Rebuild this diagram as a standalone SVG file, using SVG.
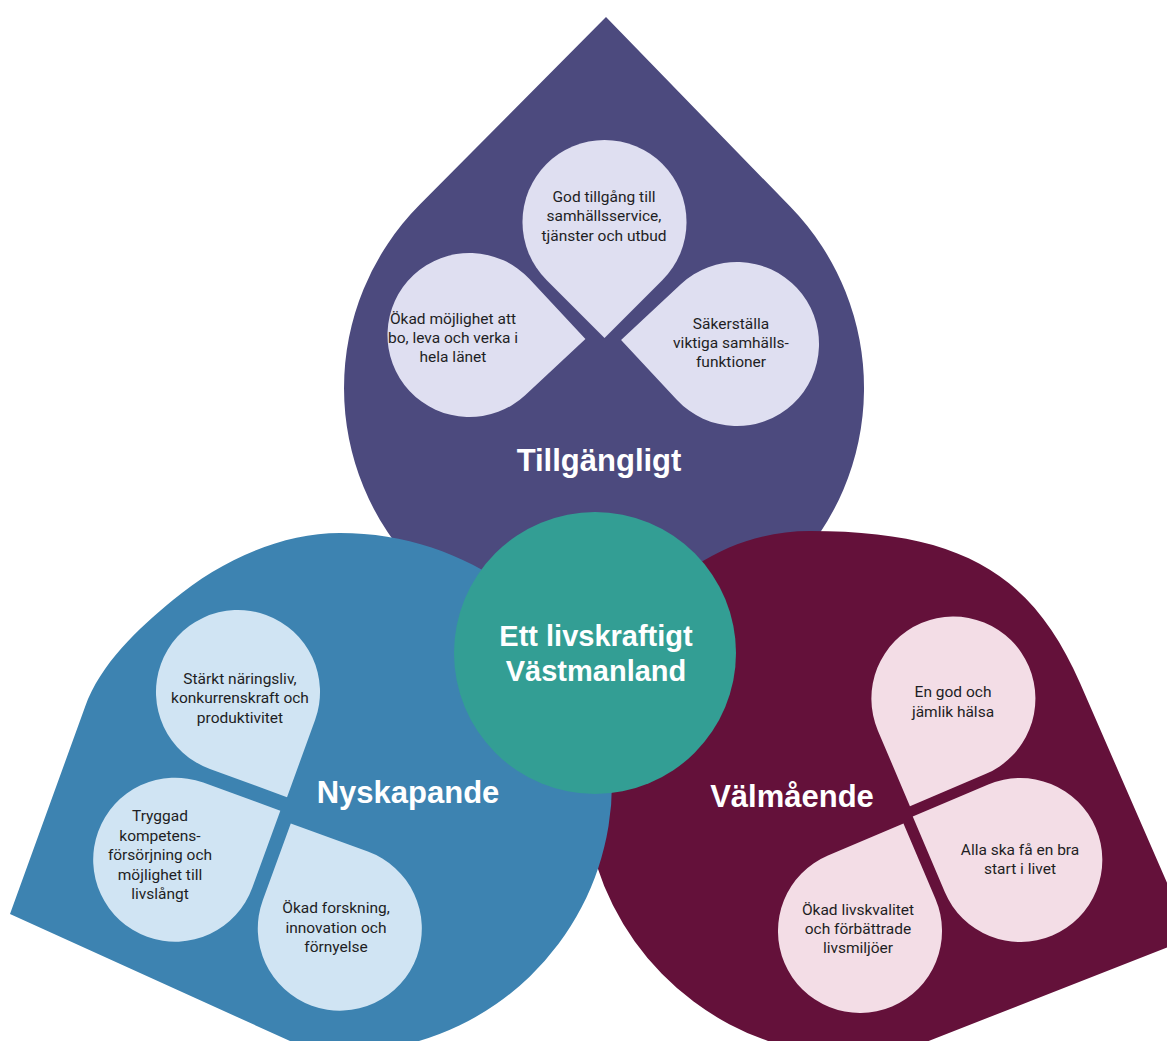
<svg xmlns="http://www.w3.org/2000/svg" xmlns:xlink="http://www.w3.org/1999/xlink" width="1167" height="1041" viewBox="0 0 1167 1041">
<style>
.ptxt{font-family:Roboto,"Liberation Sans",sans-serif;font-size:15.5px;fill:#1e1e24;text-anchor:middle}
.lbl{font-family:"Liberation Sans",Arial,sans-serif;font-size:31px;font-weight:bold;fill:#ffffff;text-anchor:middle}
.ctr{font-size:29px}
.pp{fill:#dfdff1}.bp{fill:#d0e4f3}.mp{fill:#f3dde6}
</style>
<defs>
<path id="petal" d="M0 116 L-58 58 A82 82 0 1 1 58 58 Z"/>
</defs>
<rect width="1167" height="1041" fill="#ffffff"/>

<g id="tillgangligt">
<path d="M606 17 L419.6 204.8 A260 260 0 1 0 790.4 206.8 Z" fill="#4c4a7e"/>
<use id="p-god-tillgang" xlink:href="#petal" class="pp" transform="translate(604.5,222)"/>
<use id="p-okad-mojlighet" xlink:href="#petal" class="pp" transform="translate(469.5,335) rotate(-88)"/>
<use id="p-sakerstalla" xlink:href="#petal" class="pp" transform="translate(737,344) rotate(92)"/>
<text class="ptxt"><tspan x="604" y="202">God tillgång till</tspan><tspan x="604" y="221">samhällsservice,</tspan><tspan x="604" y="241">tjänster och utbud</tspan></text>
<text class="ptxt"><tspan x="453" y="324">Ökad möjlighet att</tspan><tspan x="453" y="343">bo, leva och verka i</tspan><tspan x="453" y="362">hela länet</tspan></text>
<text class="ptxt"><tspan x="731" y="329">Säkerställa</tspan><tspan x="731" y="348">viktiga samhälls-</tspan><tspan x="731" y="367">funktioner</tspan></text>
<text class="lbl" x="599" y="471">Tillgängligt</text>
</g>

<g id="valmaende">
<path d="M1191 938 L1080 683 C1032 573 960 531 810 531 C685 531 584 644 584 783 A273 273 0 0 0 768 1041 L760 1075 L842 1075 Z" fill="#64113a"/>
<use id="p-en-god" xlink:href="#petal" class="mp" transform="translate(953.4,698.6) rotate(22)"/>
<use id="p-alla-ska" xlink:href="#petal" class="mp" transform="translate(1020.3,860) rotate(112)"/>
<use id="p-okad-livskvalitet" xlink:href="#petal" class="mp" transform="translate(860,931) rotate(202)"/>
<text class="ptxt"><tspan x="953" y="697">En god och</tspan><tspan x="953" y="717">jämlik hälsa</tspan></text>
<text class="ptxt"><tspan x="1020" y="855">Alla ska få en bra</tspan><tspan x="1020" y="874">start i livet</tspan></text>
<text class="ptxt"><tspan x="858" y="915">Ökad livskvalitet</tspan><tspan x="858" y="934">och förbättrade</tspan><tspan x="858" y="953">livsmiljöer</tspan></text>
<text class="lbl" x="792" y="807">Välmående</text>
</g>

<g id="nyskapande">
<path d="M10 914 L85 707 C100.5 663.7 137.6 629.4 173 600 C219 561.6 280 533 340 533 C490 533 612 645 612 783 A269 269 0 0 1 419 1041 L430 1075 L365 1075 Z" fill="#3d83b1"/>
<use id="p-starkt" xlink:href="#petal" class="bp" transform="translate(238,692) rotate(-25)"/>
<use id="p-tryggad" xlink:href="#petal" class="bp" transform="translate(175.2,859.7) rotate(-115)"/>
<use id="p-okad-forskning" xlink:href="#petal" class="bp" transform="translate(339.8,928.6) rotate(155)"/>
<text class="ptxt"><tspan x="240" y="684">Stärkt näringsliv,</tspan><tspan x="240" y="703">konkurrenskraft och</tspan><tspan x="240" y="723">produktivitet</tspan></text>
<text class="ptxt"><tspan x="160" y="821">Tryggad</tspan><tspan x="160" y="841">kompetens-</tspan><tspan x="160" y="860">försörjning och</tspan><tspan x="160" y="880">möjlighet till</tspan><tspan x="160" y="899">livslångt</tspan></text>
<text class="ptxt"><tspan x="336" y="913">Ökad forskning,</tspan><tspan x="336" y="933">innovation och</tspan><tspan x="336" y="952">förnyelse</tspan></text>
<text class="lbl" x="408" y="803">Nyskapande</text>
</g>

<g id="center">
<circle cx="595" cy="653" r="141" fill="#339e94"/>
<text class="lbl ctr" x="596" y="646">Ett livskraftigt</text>
<text class="lbl ctr" x="596" y="681">Västmanland</text>
</g>

<g id="connectors"/>
</svg>
